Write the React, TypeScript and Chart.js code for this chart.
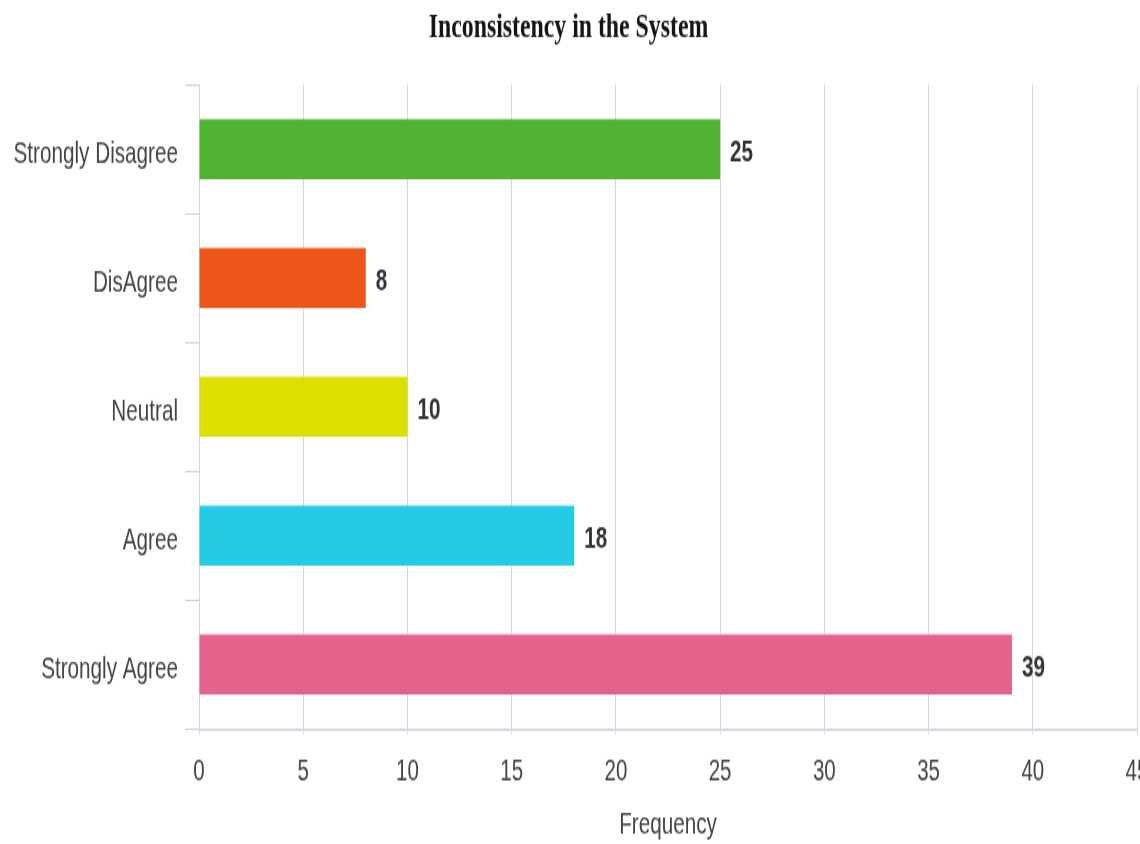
import { useEffect, useRef } from 'react';
import { Chart, registerables } from 'chart.js';

Chart.register(...registerables);

// Survey answers, listed top to bottom as drawn
const categories = ['Strongly Disagree', 'DisAgree', 'Neutral', 'Agree', 'Strongly Agree'];
const frequencies = [25, 8, 10, 18, 39];
const barColors = ['#50B432', '#ED561B', '#DDDF00', '#24CBE5', '#E4638A'];

const axisMin = 0;
const axisMax = 45;
const axisStep = 5;

const chartTitle = 'Inconsistency in the System';
const axisTitle = 'Frequency';

// The chart is drawn on a shorter canvas and shown stretched vertically,
// which gives the tall, narrow lettering of the published figure.
const PAGE_W = 1140;
const PAGE_H = 844;
const DRAW_H = 570;

const sans = '"Liberation Sans", Arial, sans-serif';
const serif = '"Liberation Serif", "Times New Roman", serif';
const labelColor = '#444444';

const valueLabels = {
  id: 'valueLabels',
  afterDatasetsDraw(chart: any) {
    const { ctx } = chart;
    const meta = chart.getDatasetMeta(0);
    const values = chart.data.datasets[0].data as number[];
    ctx.save();
    ctx.font = `bold 20.7px ${sans}`;
    ctx.fillStyle = '#333333';
    ctx.textAlign = 'left';
    ctx.textBaseline = 'middle';
    meta.data.forEach((bar: any, i: number) => {
      const { x, y } = bar.getProps(['x', 'y'], true);
      ctx.fillText(String(values[i]), x + 10, y + 2.5);
    });
    ctx.restore();
  },
};

export default function App() {
  const canvasRef = useRef<HTMLCanvasElement | null>(null);

  useEffect(() => {
    document.body.style.margin = '0';
    const canvas = canvasRef.current;
    if (!canvas) return;

    const chart = new Chart(canvas, {
      type: 'bar',
      data: {
        labels: categories,
        datasets: [
          {
            data: frequencies,
            backgroundColor: barColors,
            borderWidth: 0,
            barPercentage: 0.466,
            categoryPercentage: 1,
          },
        ],
      },
      options: {
        indexAxis: 'y',
        responsive: false,
        animation: false,
        devicePixelRatio: 1,
        layout: { padding: { left: 0, right: 3, top: 0, bottom: 0 } },
        plugins: {
          legend: { display: false },
          tooltip: { enabled: false },
          title: {
            display: true,
            text: chartTitle,
            color: '#151515',
            font: { family: serif, size: 23.8, weight: 'bold', lineHeight: 1.2 },
            padding: { top: 4.8, bottom: 24.0 },
          },
        },
        scales: {
          x: {
            type: 'linear',
            min: axisMin,
            max: axisMax,
            ticks: {
              stepSize: axisStep,
              color: labelColor,
              font: { family: sans, size: 20.5 },
              padding: 13,
            },
            grid: { color: '#d6d8e0', tickLength: 4, drawTicks: true },
            border: { display: true, color: '#c8d2e6', width: 1.5 },
            title: {
              display: true,
              text: axisTitle,
              color: labelColor,
              font: { family: sans, size: 20.7, lineHeight: 1.2 },
              padding: { top: 0, bottom: 0 },
            },
            afterFit(scale: any) {
              scale.height = 77.7;
              scale.paddingLeft = 0;
              scale.paddingRight = 0;
            },
          },
          y: {
            type: 'category',
            ticks: {
              color: labelColor,
              font: { family: sans, size: 20.7 },
              padding: 7,
              labelOffset: 3.2,
            },
            grid: {
              drawOnChartArea: false,
              tickLength: 14,
              color: '#c8d2e6',
              offset: true,
            },
            border: { display: true, color: '#d6d8e0', width: 1 },
            afterFit(scale: any) {
              scale.width = 199;
              scale.paddingTop = 0;
              scale.paddingBottom = 0;
            },
          },
        },
      },
      plugins: [valueLabels],
    } as any);

    return () => chart.destroy();
  }, []);

  return (
    <div style={{ position: 'absolute', left: 0, top: 0, width: PAGE_W, height: PAGE_H, background: '#fff' }}>
      <canvas
        ref={canvasRef}
        width={PAGE_W}
        height={DRAW_H}
        style={{ width: `${PAGE_W}px`, height: `${PAGE_H}px`, display: 'block' }}
      />
    </div>
  );
}
